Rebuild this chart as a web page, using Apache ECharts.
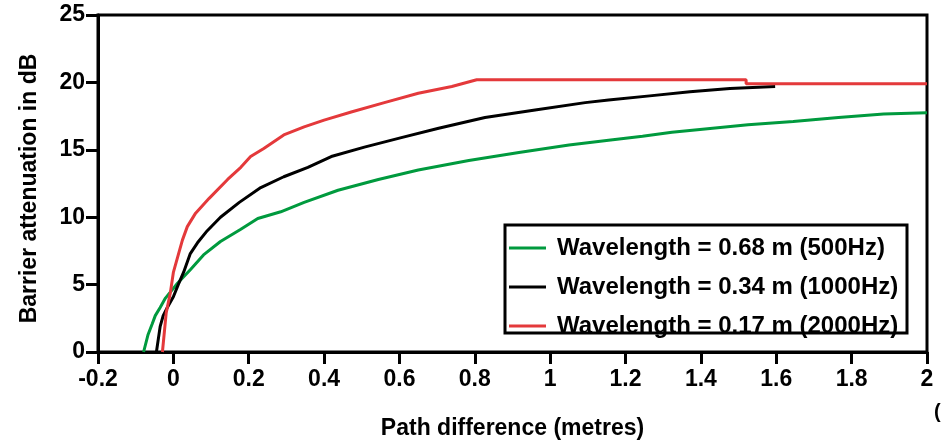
<!DOCTYPE html>
<html>
<head>
<meta charset="utf-8">
<script src="https://cdn.jsdelivr.net/npm/echarts@6/dist/echarts.min.js"></script>
<style>html,body{margin:0;padding:0;background:#fff}#c{width:944px;height:440px}</style>
</head>
<body>
<div id="c"></div>
<script>
// Tick settings
const xTicks = { min: -0.2, max: 2, interval: 0.2 };
const yTicks = { min: 0, max: 25, interval: 5 };

const seriesNames = [
  'Wavelength = 0.68 m (500Hz)',
  'Wavelength = 0.34 m (1000Hz)',
  'Wavelength = 0.17 m (2000Hz)'
];

// Green: 0.68 m (500 Hz)
const greenPath = [-0.079,-0.067,-0.056,-0.048,-0.035,-0.021,0.011,0.045,0.08,0.125,0.179,0.224,0.285,0.347,0.437,0.544,0.65,0.784,0.917,1.05,1.155,1.245,1.323,1.411,1.525,1.645,1.765,1.885,2.0];
const greenAtten = [0,1.3,2.1,2.7,3.3,4.0,5.1,6.1,7.2,8.2,9.1,9.9,10.4,11.1,12.0,12.8,13.5,14.2,14.8,15.35,15.7,16.0,16.3,16.55,16.85,17.1,17.4,17.65,17.75];

// Black: 0.34 m (1000 Hz)
const blackPath = [-0.045,-0.035,-0.027,-0.016,0,0.013,0.027,0.045,0.064,0.09,0.125,0.175,0.232,0.293,0.357,0.419,0.507,0.605,0.704,0.827,0.96,1.093,1.155,1.264,1.371,1.477,1.597];
const blackAtten = [0,1.9,2.7,3.3,4.1,5.0,5.9,7.3,8.1,9.0,10.0,11.1,12.2,13.0,13.7,14.5,15.2,15.9,16.6,17.4,17.95,18.5,18.7,19.0,19.3,19.55,19.7];

// Red: 0.17 m (2000 Hz)
const redPath = [-0.029,-0.019,-0.008,0,0.013,0.024,0.037,0.059,0.095,0.144,0.179,0.205,0.24,0.293,0.347,0.4,0.472,0.56,0.65,0.739,0.805,1.52,1.52,2.0];
const redAtten = [0,2.9,4.4,5.9,7.2,8.3,9.3,10.3,11.4,12.8,13.7,14.5,15.1,16.1,16.7,17.2,17.8,18.5,19.2,19.7,20.2,20.2,19.9,19.9];

const colors = ['#009a3e', '#000000', '#e4393b'];

function pairs(xs, ys) { return xs.map((x, i) => [x, ys[i]]); }

const FONT = '"Liberation Sans", Arial, sans-serif';
const chart = echarts.init(document.getElementById('c'), null, { renderer: 'canvas' });

const axisCommon = {
  axisLine: { show: true, onZero: false, lineStyle: { color: '#000', width: 3 } },
  axisTick: { show: true, inside: false, length: 12, lineStyle: { color: '#000', width: 3 } },
  splitLine: { show: false }
};

chart.setOption({
  animation: false,
  backgroundColor: '#fff',
  color: colors,
  grid: { left: 98, right: 17, top: 15, bottom: 88, show: true, borderColor: '#000', borderWidth: 3, backgroundColor: 'transparent', containLabel: false, outerBoundsMode: 'none' },
  xAxis: Object.assign({}, axisCommon, {
    type: 'value', min: xTicks.min, max: xTicks.max, interval: xTicks.interval,
    name: 'Path difference (metres)', nameLocation: 'middle', nameGap: 65,
    nameTextStyle: { color: '#000', fontSize: 23, fontWeight: 'bold', fontFamily: FONT },
    axisLabel: { color: '#000', fontSize: 23, fontWeight: 'bold', fontFamily: FONT, margin: 16 }
  }),
  yAxis: Object.assign({}, axisCommon, {
    type: 'value', min: yTicks.min, max: yTicks.max, interval: yTicks.interval,
    name: 'Barrier attenuation in dB', nameLocation: 'middle', nameGap: 57, nameRotate: 90,
    nameTextStyle: { color: '#000', fontSize: 23, fontWeight: 'bold', fontFamily: FONT, padding: [0, 10, 0, 0] },
    axisLabel: { color: '#000', fontSize: 23, fontWeight: 'bold', fontFamily: FONT, margin: 13 }
  }),
  legend: {
    data: seriesNames,
    orient: 'vertical',
    left: 509, top: 236,
    icon: 'rect', itemWidth: 37, itemHeight: 3,
    itemGap: 15,
    padding: 0,
    z: 10,
    selectedMode: false,
    textStyle: { color: '#000', fontSize: 24, fontWeight: 'bold', fontFamily: FONT, lineHeight: 22, padding: [0, 0, 0, 6] }
  },
  graphic: [
    { type: 'rect', z: 5, shape: { x: 505, y: 225, width: 402, height: 108 }, style: { fill: '#fff', stroke: '#000', lineWidth: 3 } },
    { type: 'text', left: 934, top: 402, style: { text: '(', fill: '#000', font: 'bold 20px "Liberation Sans", Arial, sans-serif' } }
  ],
  series: [
    { name: seriesNames[0], type: 'line', data: pairs(greenPath, greenAtten), showSymbol: false, symbol: 'none', lineStyle: { width: 3, color: colors[0] }, z: 3 },
    { name: seriesNames[1], type: 'line', data: pairs(blackPath, blackAtten), showSymbol: false, symbol: 'none', lineStyle: { width: 3, color: colors[1] }, z: 4 },
    { name: seriesNames[2], type: 'line', data: pairs(redPath, redAtten), showSymbol: false, symbol: 'none', lineStyle: { width: 3, color: colors[2] }, z: 5 }
  ]
});
</script>
</body>
</html>
